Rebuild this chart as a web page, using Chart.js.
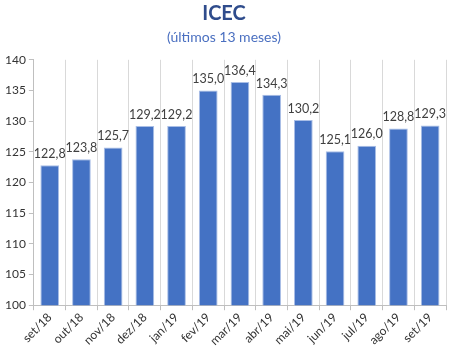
<!DOCTYPE html>
<html>
<head>
<meta charset="utf-8">
<script src="https://cdn.jsdelivr.net/npm/chart.js@4/dist/chart.umd.min.js"></script>
<style>
html,body{margin:0;padding:0;background:#fff;}
#wrap{width:450px;height:348px;position:relative;}
</style>
</head>
<body>
<div id="wrap"><canvas id="c" width="450" height="348"></canvas></div>
<script>
const categories = ["set/18","out/18","nov/18","dez/18","jan/19","fev/19","mar/19","abr/19","mai/19","jun/19","jul/19","ago/19","set/19"];
const icecValues = [122.8,123.8,125.7,129.2,129.2,135.0,136.4,134.3,130.2,125.1,126.0,128.8,129.3];
const yTicks = [100,105,110,115,120,125,130,135,140];

const FONT = "Lato, 'Open Sans', sans-serif";

const labelPlugin = {
  id: 'barLabels',
  afterDatasetsDraw(chart) {
    const ctx = chart.ctx;
    const meta = chart.getDatasetMeta(0);
    ctx.save();
    ctx.font = "12.5px " + FONT;
    ctx.fillStyle = "#404040";
    ctx.textAlign = "center";
    ctx.textBaseline = "bottom";
    meta.data.forEach((bar, i) => {
      ctx.fillText(icecValues[i].toFixed(1).replace('.', ','), bar.x, bar.y - 5);
    });
    ctx.restore();
  }
};

new Chart(document.getElementById('c'), {
  type: 'bar',
  data: {
    labels: categories,
    datasets: [{
      data: icecValues,
      backgroundColor: '#4472C4',
      borderColor: '#A9BEE6',
      borderWidth: 1,
      categoryPercentage: 1.0,
      barPercentage: 0.59
    }]
  },
  options: {
    responsive: false,
    animation: false,
    devicePixelRatio: 1,
    layout: { padding: { left: 2, right: 4, top: 0, bottom: 0 } },
    plugins: {
      legend: { display: false },
      tooltip: { enabled: false },
      title: {
        display: true,
        text: 'ICEC',
        color: '#2F4C8C',
        font: { family: FONT, size: 20, weight: 'bold' },
        padding: { top: 2, bottom: 2 }
      },
      subtitle: {
        display: true,
        text: '(últimos 13 meses)',
        color: '#4A6FC0',
        font: { family: FONT, size: 14 },
        padding: { top: 1, bottom: 14 }
      }
    },
    scales: {
      x: {
        grid: {
          display: true,
          offset: true,
          color: '#D9D9D9',
          drawTicks: true,
          tickLength: 5,
          tickColor: '#BFBFBF'
        },
        border: { color: '#BFBFBF' },
        ticks: {
          maxRotation: 45,
          minRotation: 45,
          color: '#333333',
          font: { family: FONT, size: 12 },
          padding: 0
        }
      },
      y: {
        min: 100,
        max: 140,
        afterBuildTicks(axis) { axis.ticks = yTicks.map(v => ({ value: v })); },
        grid: {
          drawOnChartArea: false,
          drawTicks: true,
          tickLength: 5,
          tickColor: '#BFBFBF'
        },
        border: { color: '#BFBFBF' },
        ticks: {
          color: '#333333',
          font: { family: FONT, size: 12 },
          padding: 3
        }
      }
    }
  },
  plugins: [labelPlugin]
});
</script>
</body>
</html>
